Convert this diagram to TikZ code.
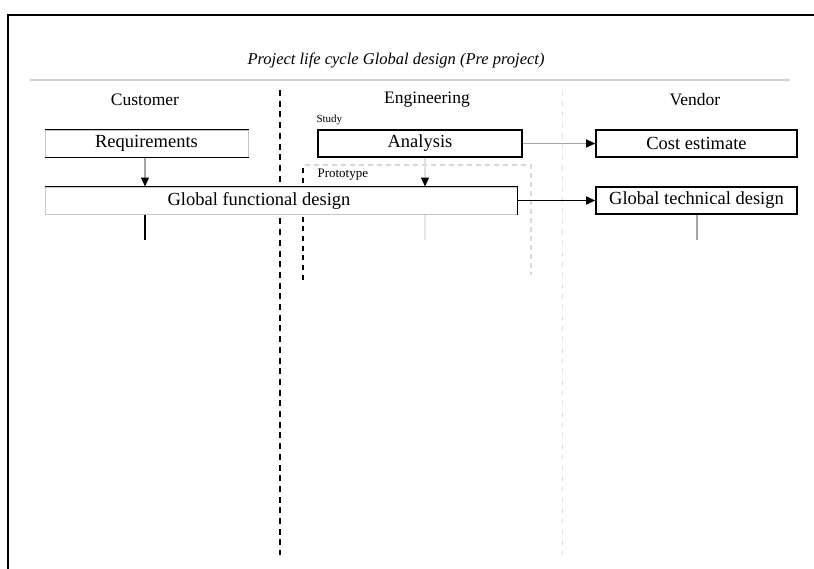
\documentclass[tikz,border=0pt]{standalone}
\usepackage{fontspec}
\setmainfont{Liberation Serif}
\usetikzlibrary{arrows.meta, positioning}

\tikzset{
	lanebox/.style={draw=black, fill=white, line width=1.6pt, rectangle, minimum height=27pt, inner sep=0pt, font=\fontsize{18.5}{20}\selectfont},
	softbox/.style={lanebox, draw=gray!45, line width=1pt},
	lanehead/.style={font=\fontsize{17.5}{19}\selectfont},
	flow/.style={draw=gray!70, line width=1.2pt, -{Triangle[color=black,length=9pt,width=8pt]}},
	strongflow/.style={flow, draw=black, line width=1.6pt},
	life/.style={line width=1.4pt}
}

\begin{document}
\begin{tikzpicture}[x=1pt,y=-1pt]
	\useasboundingbox (0,0) rectangle (814,568);
	% frame
	\draw[line width=2.5pt] (8,580) -- (8,15) -- (830,15);
	% title
	\node[font=\fontsize{16.5}{18}\selectfont\itshape] (title) at (396,60) {Project life cycle Global design (Pre project)};
	\draw[gray!35, line width=1.5pt] (30,80) -- (790,80);
	% lanes
	\node[lanehead] (cust) at (145,100) {Customer};
	\node[lanehead] (eng) at (427,100) {Engineering};
	\node[lanehead] (vend) at (695,100) {Vendor};
	\draw[line width=2.2pt, dash pattern=on 6pt off 4.7pt] (280,90) -- (280,555);
	\draw[gray!22, line width=1pt, dash pattern=on 6pt off 4.7pt] (562,90) -- (562,555);
	% prototype region
	\draw[gray!30, line width=1.2pt, dash pattern=on 5pt off 4pt] (305,165) -- (531,165) -- (531,275);
	\draw[line width=2.2pt, dash pattern=on 5pt off 4.7pt] (303,168) -- (303,280);
	\node[font=\fontsize{13}{15}\selectfont, anchor=west] (proto) at (314,175) {Prototype};

	% boxes
	\node[softbox, minimum width=203pt] (req) at (146.5,143.5) {Requirements};
	\draw[line width=1.6pt] (req.north west) -- (req.north east) (req.south west) -- (req.south east);
	\node[softbox, minimum width=472pt] (gfd) at (281,200.5) {\hspace*{-44pt}Global functional design};
	\draw[line width=1.6pt] (gfd.north west) -- (gfd.north east) -- (gfd.south east);
	\node[lanebox, minimum width=204pt] (ana) at (420,143.5) {Analysis};
	\node[font=\fontsize{11}{13}\selectfont, anchor=south west] (study) at (313,128) {Study};
	\node[lanebox, minimum width=201pt] (cost) at (696.5,143.5) {Cost estimate};
	\node[lanebox, minimum width=201pt] (gtd) at (696.5,200.5) {Global technical design};

	% life lines
	\coordinate (custend) at (145,240);
	\coordinate (engend) at (425,240);
	\coordinate (vendend) at (697,240);
	\draw[life] (gfd.south -| custend) -- (custend);
	\draw[life, gray!20] (gfd.south -| engend) -- (engend);
	\draw[life, gray!70] (gtd.south -| vendend) -- (vendend);

	% messages
	\path
		(req.south -| custend) edge[flow] (gfd.north -| custend)
		(ana.south -| engend) edge[flow, draw=gray!25] (gfd.north -| engend)
		(ana) edge[flow] (cost)
		(gfd) edge[strongflow] (gtd);
\end{tikzpicture}
\end{document}
